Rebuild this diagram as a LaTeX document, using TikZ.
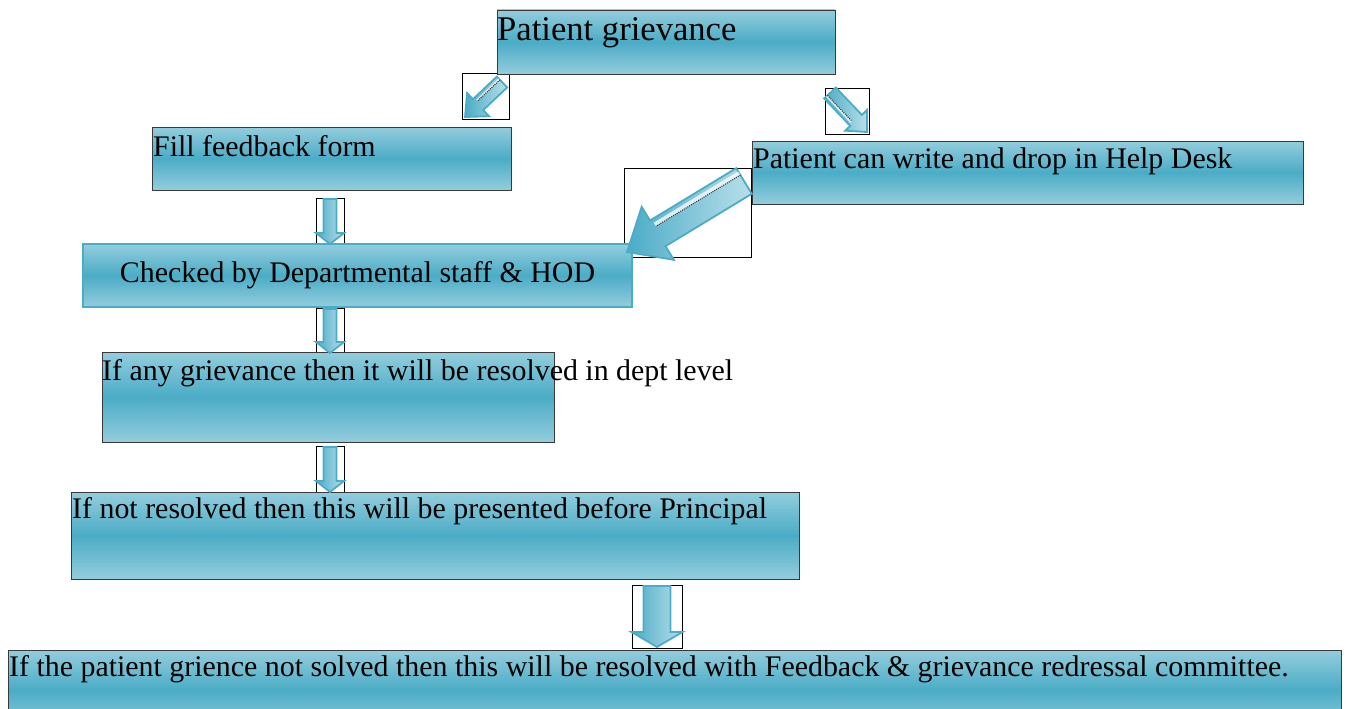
\documentclass[tikz,border=0pt]{standalone}
\usepackage{fontspec}
\setmainfont{Liberation Serif}
\usetikzlibrary{calc,fit}

\definecolor{bandlight}{HTML}{93CDDD}
\definecolor{banddark}{HTML}{4BACC6}
\definecolor{edgegray}{HTML}{3A3A3A}
\definecolor{arrowteal}{HTML}{4BACC6}
\definecolor{arrowpale}{HTML}{B9DFEA}

\newcommand\gvTitle{\fontsize{34.6}{40}\selectfont}
\newcommand\gvBody{\fontsize{29.9}{35}\selectfont}

% block arrow from #1 to #2: shaft half-width #3, head half-width #4, head length #5
\newcommand\gvArrow[5]{%
  \coordinate (gvneck) at ($(#2)!#5!(#1)$);
  \draw[arrowbody]
    ($(#1)!#3!90:(#2)$) -- ($(gvneck)!#3!90:(#2)$) -- ($(gvneck)!#4!90:(#2)$)
    -- (#2)
    -- ($(gvneck)!#4!-90:(#2)$) -- ($(gvneck)!#3!-90:(#2)$) -- ($(#1)!#3!-90:(#2)$)
    -- cycle;}

% light strip with a dark dotted edge along one side of a diagonal shaft
% from #1 towards #2, offset #3 from the axis, ending #4 before the tip
\newcommand\gvSheen[4]{%
  \fill[white, opacity=0.75]
    ($(#1)!#3!-90:(#2)$) -- ($($(#2)!#4!(#1)$)!#3!-90:(#2)$)
    -- ($($(#2)!#4!(#1)$)!1.6*#3!-90:(#2)$) -- ($(#1)!1.6*#3!-90:(#2)$) -- cycle;
  \draw[sheen] ($(#1)!#3!-90:(#2)$) -- ($($(#2)!#4!(#1)$)!#3!-90:(#2)$);}

\tikzset{
  stage/.style={draw=edgegray, line width=0.9pt, inner sep=0pt,
    top color=bandlight, bottom color=bandlight, middle color=banddark},
  keystage/.style={stage, draw=arrowteal, line width=2.2pt},
  frame/.style={draw=black, line width=0.8pt, inner sep=0pt},
  arrowbody/.style={draw=arrowteal, line width=1.8pt, line join=miter,
    left color=arrowteal, right color=arrowpale},
  sheen/.style={draw=black!75, line width=1.1pt, densely dotted},
  lbl/.style={anchor=base west, inner sep=0pt, font=\gvBody, text=black},
}

\begin{document}
\begin{tikzpicture}[x=1pt,y=-1pt]
\useasboundingbox (0,0) rectangle (1349,709);
\clip (0,0) rectangle (1349,709);

% frames holding the arrows
\node[frame, fit={(462,73) (509,119)}] (f1) {};
\node[frame, fit={(825,88) (869,134)}] (f2) {};
\node[frame, fit={(624,168) (751,257)}] (f3) {};
\node[frame, fit={(316,198) (344,244)}] (f4) {};
\node[frame, fit={(316,308) (344,353)}] (f5) {};
\node[frame, fit={(316,446) (344,492)}] (f6) {};
\node[frame, fit={(632,585) (682,648)}] (f7) {};

% process boxes
\node[stage, fit={(497,10) (835,74)}] (grievance) {};
\node[stage, fit={(152,127) (511,190)}] (form) {};
\node[stage, fit={(752,141) (1303,204)}] (helpdesk) {};
\node[keystage, fit={(83,244) (632,307)}] (checked) {};
\node[stage, fit={(102,352) (554,442)}] (dept) {};
\node[stage, fit={(71,492) (799,579)}] (principal) {};
\node[stage, fit={(8,650) (1341,730)}] (committee) {};

% labels
\node[lbl, font=\gvTitle] (tgrievance) at (497,41) {Patient grievance};
\node[lbl] (tform) at (153,156) {Fill feedback form};
\node[lbl] (thelp) at (753,168) {Patient can write and drop in Help Desk};
\node[lbl, anchor=base] (tchecked) at (357.5,282) {Checked by Departmental staff \& HOD};
\node[lbl] (tdept) at (102,380) {If any grievance then it will be resolved in dept level};
\node[lbl] (tprinc) at (72,518) {If not resolved then this will be presented before Principal};
\node[lbl] (tcomm) at (9,676) {If the patient grience not solved then this will be resolved with Feedback \& grievance redressal committee.};

% arrow end points
\coordinate (a1s) at (502,82);   \coordinate (a1e) at (465,117);
\coordinate (a2s) at (830,93);   \coordinate (a2e) at (867,132);
\coordinate (a3s) at (744,181);  \coordinate (a3e) at (627,252);
\coordinate (a4s) at (330,199);  \coordinate (a4e) at (330,244);
\coordinate (a5s) at (330,309);  \coordinate (a5e) at (330,353);
\coordinate (a6s) at (330,447);  \coordinate (a6e) at (330,492);
\coordinate (a7s) at (657,586);  \coordinate (a7e) at (657,647);

% arrows
\gvArrow{a1s}{a1e}{7.5pt}{16pt}{18pt}
\gvSheen{a1s}{a1e}{3pt}{20pt}
\gvArrow{a2s}{a2e}{8pt}{15pt}{16pt}
\gvSheen{a2s}{a2e}{3.5pt}{18pt}
\gvArrow{a3s}{a3e}{15pt}{31pt}{36pt}
\gvSheen{a3s}{a3e}{7pt}{38pt}
\gvArrow{a4s}{a4e}{6.5pt}{14pt}{11pt}
\gvArrow{a5s}{a5e}{6.5pt}{14pt}{11pt}
\gvArrow{a6s}{a6e}{6.5pt}{14pt}{11pt}
\gvArrow{a7s}{a7e}{13.5pt}{25.5pt}{15pt}
\end{tikzpicture}
\end{document}
